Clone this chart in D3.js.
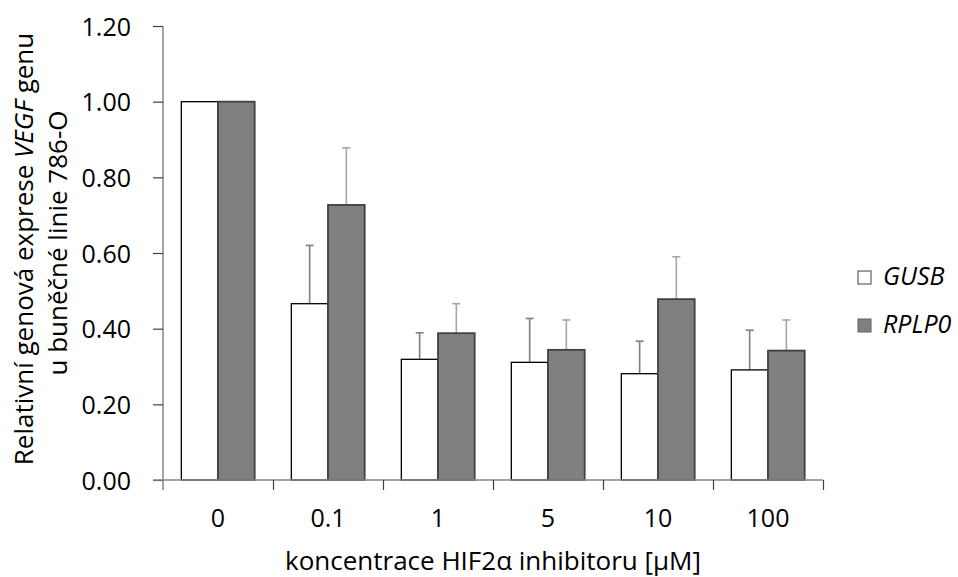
<!DOCTYPE html>
<html>
<head>
<meta charset="utf-8">
<script src="https://cdn.jsdelivr.net/npm/d3@7"></script>
<style>
  html, body { margin: 0; padding: 0; background: #fff; }
  svg { display: block; }
  text { font-family: "Open Sans", "Noto Sans", sans-serif; fill: #000; }
</style>
</head>
<body>
<svg id="chart" width="958" height="577"></svg>
<script>
// Concentrations of the HIF2α inhibitor (µM)
const categories = ["0", "0.1", "1", "5", "10", "100"];
// Relative VEGF expression normalised to each reference gene
const gusbValues  = [1.00, 0.466, 0.319, 0.311, 0.281, 0.291];
const rplp0Values = [1.00, 0.727, 0.388, 0.344, 0.478, 0.342];
// Upper error (SD) for each bar
const gusbErr  = [0, 0.154, 0.070, 0.116, 0.086, 0.105];
const rplp0Err = [0, 0.151, 0.078, 0.079, 0.112, 0.081];
const yTicks = [0, 0.2, 0.4, 0.6, 0.8, 1.0, 1.2];
const seriesNames = ["GUSB", "RPLP0"];

const FONT = "25px";
const TITLE_FONT = "26px";

const svg = d3.select("#chart");
const plot = { left: 163, right: 823, top: 26, bottom: 480 };

const y = d3.scaleLinear().domain([0, 1.2]).range([plot.bottom, plot.top]);
const x = d3.scaleBand().domain(categories).range([plot.left, plot.right]).padding(0);
const sub = d3.scaleBand().domain(seriesNames).range([x.bandwidth() / 6, x.bandwidth() * 5 / 6]).padding(0);
const edge = d3.scaleLinear().domain([0, categories.length]).range([plot.left, plot.right]);

const styles = {
  GUSB:  { fill: "#ffffff", stroke: "#000000", err: "#7f7f7f" },
  RPLP0: { fill: "#808080", stroke: "#404040", err: "#a6a6a6" }
};

const rows = categories.map((c, i) => ({
  cat: c,
  bars: [
    { name: "GUSB", v: gusbValues[i], e: gusbErr[i] },
    { name: "RPLP0", v: rplp0Values[i], e: rplp0Err[i] }
  ]
}));

// Bars
const groups = svg.append("g").selectAll("g").data(rows).join("g")
  .attr("transform", d => `translate(${x(d.cat)},0)`);

// Error bars (drawn first so the bar outline covers the stem base)
groups.selectAll("g.err").data(d => d.bars.filter(b => b.e > 0)).join("g")
  .attr("class", "err")
  .each(function (b) {
    const g = d3.select(this);
    const cx = sub(b.name) + sub.bandwidth() / 2;
    g.append("line").attr("x1", cx).attr("x2", cx)
      .attr("y1", y(b.v)).attr("y2", y(b.v + b.e))
      .attr("stroke", styles[b.name].err).attr("stroke-width", 1.6);
    g.append("line").attr("x1", cx - 4).attr("x2", cx + 4)
      .attr("y1", y(b.v + b.e)).attr("y2", y(b.v + b.e))
      .attr("stroke", styles[b.name].err).attr("stroke-width", 1.6);
  });

groups.selectAll("rect").data(d => d.bars).join("rect")
  .attr("x", b => sub(b.name))
  .attr("y", b => y(b.v))
  .attr("width", sub.bandwidth())
  .attr("height", b => y(0) - y(b.v))
  .attr("fill", b => styles[b.name].fill)
  .attr("stroke", b => styles[b.name].stroke)
  .attr("stroke-width", b => b.name === "GUSB" ? 1.3 : 1.8);

// Y axis
const yAxis = svg.append("g")
  .attr("transform", `translate(${plot.left},0)`)
  .call(d3.axisLeft(y).tickValues(yTicks).tickFormat(d3.format(".2f")).tickSize(10).tickSizeOuter(0).tickPadding(22));
yAxis.select(".domain").attr("stroke", "#868686").attr("stroke-width", 1.5)
  .attr("d", `M0,${plot.bottom + 10}V${plot.top}`);
yAxis.selectAll(".tick line").attr("stroke", "#404040").attr("stroke-width", 1.2);
yAxis.selectAll(".tick text").style("font-size", FONT).attr("dy", "0.36em");

// X axis: category boundaries as ticks
const xAxis = svg.append("g")
  .attr("transform", `translate(0,${plot.bottom})`)
  .call(d3.axisBottom(edge).tickValues(d3.range(1, categories.length + 1)).tickFormat("").tickSize(10).tickSizeOuter(0));
xAxis.select(".domain").attr("stroke", "#868686").attr("stroke-width", 1.5)
  .attr("d", `M${plot.left - 10},0H${plot.right}`);
xAxis.selectAll(".tick line").attr("stroke", "#404040").attr("stroke-width", 1.2);

// Category labels centred in each band
const xLabels = svg.append("g")
  .attr("transform", `translate(0,${plot.bottom})`)
  .call(d3.axisBottom(x).tickSize(0).tickPadding(0));
xLabels.select(".domain").remove();
xLabels.selectAll(".tick text").style("font-size", FONT).attr("y", 47).attr("dy", null);

// Axis titles
svg.append("text")
  .attr("x", 493).attr("y", 570)
  .attr("text-anchor", "middle")
  .style("font-size", TITLE_FONT)
  .text("koncentrace HIF2α inhibitoru [μM]");

const yTitle = svg.append("text")
  .attr("transform", "translate(0,249) rotate(-90)")
  .attr("text-anchor", "middle")
  .style("font-size", TITLE_FONT);
const l1 = yTitle.append("tspan").attr("x", 0).attr("y", 33);
l1.append("tspan").text("Relativní genová exprese ");
l1.append("tspan").style("font-style", "italic").text("VEGF");
l1.append("tspan").text(" genu");
yTitle.append("tspan").attr("x", 6).attr("y", 67).text("u buněčné linie 786-O");

// Legend
const legend = svg.append("g").selectAll("g").data(seriesNames).join("g")
  .attr("transform", (d, i) => `translate(858,${271 + i * 48})`);
legend.append("rect")
  .attr("width", 13).attr("height", 13)
  .attr("fill", d => styles[d].fill)
  .attr("stroke", d => d === "GUSB" ? "#404040" : "#606060")
  .attr("stroke-width", 1);
legend.append("text")
  .attr("x", 25).attr("y", 14)
  .style("font-size", FONT).style("font-style", "italic")
  .text(d => d);
</script>
</body>
</html>
